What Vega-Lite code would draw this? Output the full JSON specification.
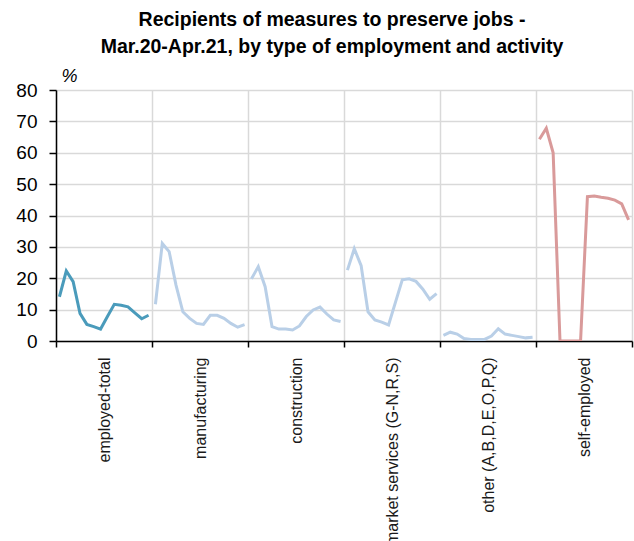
{
  "$schema": "https://vega.github.io/schema/vega-lite/v6.json",
  "width": 576,
  "height": 251,
  "autosize": "none",
  "padding": {"left": 56, "top": 90, "right": 2, "bottom": 200},
  "background": "#ffffff",
  "title": {
    "text": ["Recipients of measures to preserve jobs -", "Mar.20-Apr.21, by type of employment and activity"],
    "font": "Liberation Sans",
    "fontSize": 19.5,
    "fontWeight": "bold",
    "color": "#000000",
    "lineHeight": 27,
    "anchor": "middle",
    "dx": -12,
    "offset": 10
  },
  "config": {
    "view": {"stroke": null},
    "font": "Liberation Sans"
  },
  "data": {
    "values": [
      {"group": "employed-total", "month": "2020-03", "value": 14.1},
      {"group": "employed-total", "month": "2020-04", "value": 22.3},
      {"group": "employed-total", "month": "2020-05", "value": 18.9},
      {"group": "employed-total", "month": "2020-06", "value": 8.8},
      {"group": "employed-total", "month": "2020-07", "value": 5.3},
      {"group": "employed-total", "month": "2020-08", "value": 4.6},
      {"group": "employed-total", "month": "2020-09", "value": 3.8},
      {"group": "employed-total", "month": "2020-10", "value": 7.8},
      {"group": "employed-total", "month": "2020-11", "value": 11.7},
      {"group": "employed-total", "month": "2020-12", "value": 11.4},
      {"group": "employed-total", "month": "2021-01", "value": 10.9},
      {"group": "employed-total", "month": "2021-02", "value": 9.0},
      {"group": "employed-total", "month": "2021-03", "value": 7.1},
      {"group": "employed-total", "month": "2021-04", "value": 8.2},
      {"group": "manufacturing", "month": "2020-03", "value": 11.7},
      {"group": "manufacturing", "month": "2020-04", "value": 31.1},
      {"group": "manufacturing", "month": "2020-05", "value": 28.5},
      {"group": "manufacturing", "month": "2020-06", "value": 17.8},
      {"group": "manufacturing", "month": "2020-07", "value": 9.3},
      {"group": "manufacturing", "month": "2020-08", "value": 7.2},
      {"group": "manufacturing", "month": "2020-09", "value": 5.6},
      {"group": "manufacturing", "month": "2020-10", "value": 5.3},
      {"group": "manufacturing", "month": "2020-11", "value": 8.2},
      {"group": "manufacturing", "month": "2020-12", "value": 8.2},
      {"group": "manufacturing", "month": "2021-01", "value": 7.2},
      {"group": "manufacturing", "month": "2021-02", "value": 5.6},
      {"group": "manufacturing", "month": "2021-03", "value": 4.4},
      {"group": "manufacturing", "month": "2021-04", "value": 5.2},
      {"group": "construction", "month": "2020-03", "value": 19.8},
      {"group": "construction", "month": "2020-04", "value": 23.7},
      {"group": "construction", "month": "2020-05", "value": 17.3},
      {"group": "construction", "month": "2020-06", "value": 4.6},
      {"group": "construction", "month": "2020-07", "value": 3.8},
      {"group": "construction", "month": "2020-08", "value": 3.8},
      {"group": "construction", "month": "2020-09", "value": 3.5},
      {"group": "construction", "month": "2020-10", "value": 4.8},
      {"group": "construction", "month": "2020-11", "value": 7.8},
      {"group": "construction", "month": "2020-12", "value": 9.9},
      {"group": "construction", "month": "2021-01", "value": 10.8},
      {"group": "construction", "month": "2021-02", "value": 8.6},
      {"group": "construction", "month": "2021-03", "value": 6.7},
      {"group": "construction", "month": "2021-04", "value": 6.2},
      {"group": "market services (G-N,R,S)", "month": "2020-03", "value": 22.6},
      {"group": "market services (G-N,R,S)", "month": "2020-04", "value": 29.4},
      {"group": "market services (G-N,R,S)", "month": "2020-05", "value": 24.0},
      {"group": "market services (G-N,R,S)", "month": "2020-06", "value": 9.3},
      {"group": "market services (G-N,R,S)", "month": "2020-07", "value": 6.7},
      {"group": "market services (G-N,R,S)", "month": "2020-08", "value": 6.0},
      {"group": "market services (G-N,R,S)", "month": "2020-09", "value": 5.1},
      {"group": "market services (G-N,R,S)", "month": "2020-10", "value": 12.3},
      {"group": "market services (G-N,R,S)", "month": "2020-11", "value": 19.5},
      {"group": "market services (G-N,R,S)", "month": "2020-12", "value": 19.8},
      {"group": "market services (G-N,R,S)", "month": "2021-01", "value": 19.0},
      {"group": "market services (G-N,R,S)", "month": "2021-02", "value": 16.5},
      {"group": "market services (G-N,R,S)", "month": "2021-03", "value": 13.3},
      {"group": "market services (G-N,R,S)", "month": "2021-04", "value": 15.1},
      {"group": "other (A,B,D,E,O,P,Q)", "month": "2020-03", "value": 1.8},
      {"group": "other (A,B,D,E,O,P,Q)", "month": "2020-04", "value": 2.8},
      {"group": "other (A,B,D,E,O,P,Q)", "month": "2020-05", "value": 2.2},
      {"group": "other (A,B,D,E,O,P,Q)", "month": "2020-06", "value": 0.8},
      {"group": "other (A,B,D,E,O,P,Q)", "month": "2020-07", "value": 0.5},
      {"group": "other (A,B,D,E,O,P,Q)", "month": "2020-08", "value": 0.5},
      {"group": "other (A,B,D,E,O,P,Q)", "month": "2020-09", "value": 0.5},
      {"group": "other (A,B,D,E,O,P,Q)", "month": "2020-10", "value": 1.6},
      {"group": "other (A,B,D,E,O,P,Q)", "month": "2020-11", "value": 3.9},
      {"group": "other (A,B,D,E,O,P,Q)", "month": "2020-12", "value": 2.2},
      {"group": "other (A,B,D,E,O,P,Q)", "month": "2021-01", "value": 1.8},
      {"group": "other (A,B,D,E,O,P,Q)", "month": "2021-02", "value": 1.4},
      {"group": "other (A,B,D,E,O,P,Q)", "month": "2021-03", "value": 1.0},
      {"group": "other (A,B,D,E,O,P,Q)", "month": "2021-04", "value": 1.2},
      {"group": "self-employed", "month": "2020-03", "value": 64.3},
      {"group": "self-employed", "month": "2020-04", "value": 67.8},
      {"group": "self-employed", "month": "2020-05", "value": 60.0},
      {"group": "self-employed", "month": "2020-06", "value": 0},
      {"group": "self-employed", "month": "2020-07", "value": 0},
      {"group": "self-employed", "month": "2020-08", "value": 0},
      {"group": "self-employed", "month": "2020-09", "value": 0},
      {"group": "self-employed", "month": "2020-10", "value": 46.0},
      {"group": "self-employed", "month": "2020-11", "value": 46.2},
      {"group": "self-employed", "month": "2020-12", "value": 45.8},
      {"group": "self-employed", "month": "2021-01", "value": 45.5},
      {"group": "self-employed", "month": "2021-02", "value": 44.9},
      {"group": "self-employed", "month": "2021-03", "value": 43.7},
      {"group": "self-employed", "month": "2021-04", "value": 38.6}
    ]
  },
  "transform": [
    {"window": [{"op": "row_number", "as": "slot"}]}
  ],
  "mark": {"type": "line", "strokeWidth": 3, "strokeJoin": "miter", "clip": true},
  "encoding": {
    "x": {
      "field": "slot",
      "type": "quantitative",
      "scale": {"domain": [0.5, 84.5], "nice": false, "zero": false},
      "axis": {
        "title": null,
        "values": [0.5, 7.5, 14.5, 21.5, 28.5, 35.5, 42.5, 49.5, 56.5, 63.5, 70.5, 77.5, 84.5],
        "labelExpr": "datum.value == 7.5 ? 'employed-total' : datum.value == 21.5 ? 'manufacturing' : datum.value == 35.5 ? 'construction' : datum.value == 49.5 ? 'market services (G-N,R,S)' : datum.value == 63.5 ? 'other (A,B,D,E,O,P,Q)' : datum.value == 77.5 ? 'self-employed' : ''",
        "labelAngle": -90,
        "labelAlign": "right",
        "labelBaseline": "middle",
        "labelFont": "Liberation Sans",
        "labelFontSize": 16,
        "labelColor": "#1a1a1a",
        "labelPadding": 10,
        "labelLimit": 400,
        "labelOverlap": false,
        "labelFlush": false,
        "labelBound": false,
        "domainColor": "#000000",
        "domainWidth": 1.5,
        "tickColor": "#000000",
        "tickWidth": 1.5,
        "tickSize": 6,
        "tickOpacity": {"condition": {"test": "(datum.value - 0.5) % 14 == 0", "value": 1}, "value": 0},
        "grid": true,
        "gridColor": "#d9d9d9",
        "gridWidth": 1.5,
        "gridOpacity": {"condition": {"test": "(datum.value - 0.5) % 14 == 0", "value": 1}, "value": 0}
      }
    },
    "y": {
      "field": "value",
      "type": "quantitative",
      "scale": {"domain": [0, 80], "nice": false},
      "axis": {
        "values": [0, 10, 20, 30, 40, 50, 60, 70, 80],
        "title": "%",
        "titleAngle": 0,
        "titleAlign": "center",
        "titleBaseline": "bottom",
        "titleX": 13,
        "titleY": -5,
        "titleFont": "Liberation Sans",
        "titleFontSize": 18,
        "titleFontStyle": "italic",
        "titleFontWeight": "normal",
        "titleColor": "#000000",
        "labelFont": "Liberation Sans",
        "labelFontSize": 19,
        "labelColor": "#000000",
        "labelPadding": 12,
        "domainColor": "#000000",
        "domainWidth": 1.5,
        "tickColor": "#000000",
        "tickWidth": 1.5,
        "tickSize": 7,
        "gridColor": "#d9d9d9",
        "gridWidth": 1.5
      }
    },
    "color": {
      "field": "group",
      "type": "nominal",
      "legend": null,
      "scale": {
        "domain": ["employed-total", "manufacturing", "construction", "market services (G-N,R,S)", "other (A,B,D,E,O,P,Q)", "self-employed"],
        "range": ["#4a9bbb", "#b9cfe7", "#b9cfe7", "#b9cfe7", "#b9cfe7", "#d99a9a"]
      }
    }
  }
}
